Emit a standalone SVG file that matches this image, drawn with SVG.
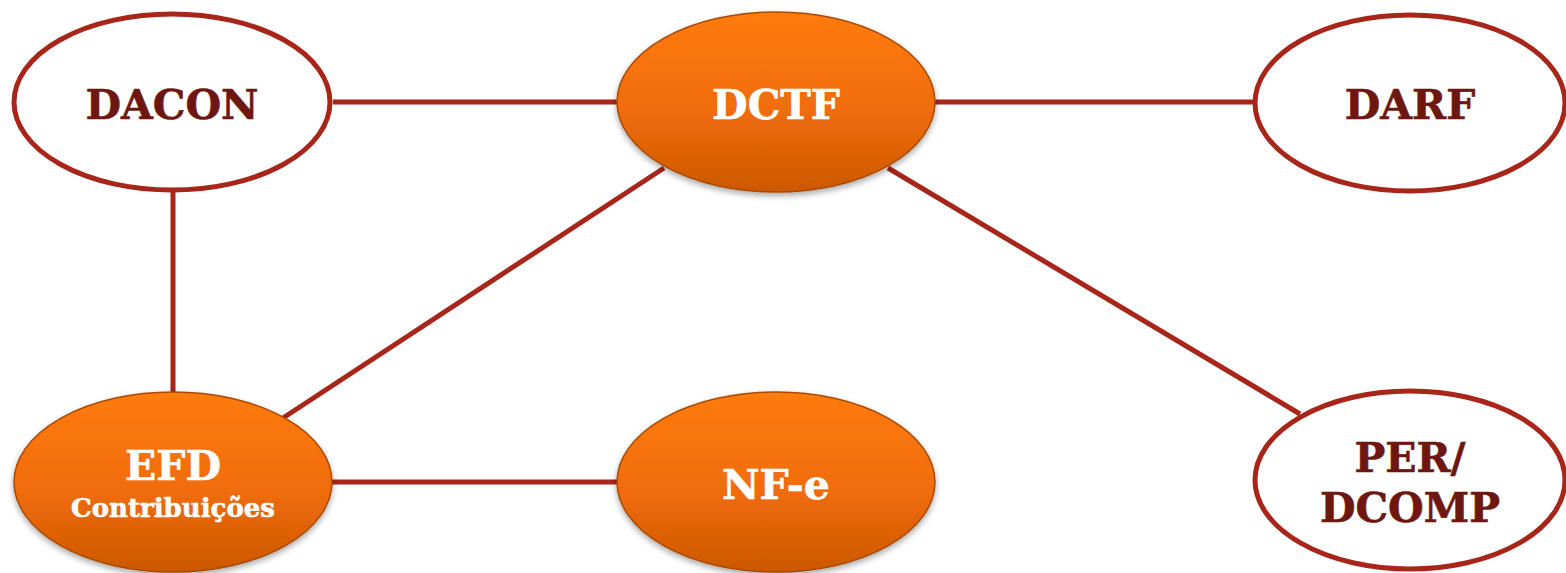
<svg xmlns="http://www.w3.org/2000/svg" width="1566" height="573" viewBox="0 0 1566 573">
<defs>
<linearGradient id="og" x1="0" y1="0" x2="0" y2="1">
<stop offset="0" stop-color="#FF7B0C"/>
<stop offset="0.55" stop-color="#F06C08"/>
<stop offset="1" stop-color="#CC5804"/>
</linearGradient>
<filter id="sh" x="-10%" y="-10%" width="120%" height="130%">
<feGaussianBlur in="SourceAlpha" stdDeviation="3"/>
<feOffset dx="0" dy="3" result="b"/>
<feComponentTransfer><feFuncA type="linear" slope="0.35"/></feComponentTransfer>
<feMerge><feMergeNode/><feMergeNode in="SourceGraphic"/></feMerge>
</filter>
</defs>
<style>
.conn{stroke:#A8251A;stroke-width:5;fill:none}
.wn{fill:#fff;stroke:#A8251A;stroke-width:5}
.on{fill:url(#og);stroke:#A84A06;stroke-width:1.5;filter:url(#sh)}
.t{font-family:"DejaVu Serif","Liberation Serif",serif;font-weight:bold;text-anchor:middle}
.dk{fill:#6E1710;stroke:#6E1710;stroke-width:0.6}
.wt{fill:#fff;stroke:#fff;stroke-width:0.6}
</style>
<g id="connectors">
<line class="conn" x1="333" y1="102" x2="617" y2="102"/>
<line class="conn" x1="935" y1="102" x2="1253" y2="102"/>
<line class="conn" x1="173" y1="190" x2="173" y2="394"/>
<line class="conn" x1="664" y1="168" x2="283" y2="418"/>
<line class="conn" x1="888" y1="168" x2="1300" y2="414"/>
<line class="conn" x1="331" y1="482" x2="619" y2="482"/>
</g>
<g id="dacon">
<ellipse class="wn" cx="172" cy="102" rx="158" ry="88"/>
<text class="t dk" x="172" y="119" font-size="41">DACON</text>
</g>
<g id="dctf">
<ellipse class="on" cx="776" cy="102" rx="159" ry="90"/>
<text class="t wt" x="776" y="119" font-size="41">DCTF</text>
</g>
<g id="darf">
<ellipse class="wn" cx="1410" cy="103" rx="155" ry="88"/>
<text class="t dk" x="1410" y="119" font-size="41">DARF</text>
</g>
<g id="efd">
<ellipse class="on" cx="173" cy="482" rx="159" ry="90"/>
<text class="t wt" x="173" y="480" font-size="41">EFD</text>
<text class="t wt" x="173" y="517" font-size="26">Contribuições</text>
</g>
<g id="nfe">
<ellipse class="on" cx="776" cy="482" rx="159" ry="90"/>
<text class="t wt" x="776" y="499" font-size="41">NF-e</text>
</g>
<g id="perdcomp">
<ellipse class="wn" cx="1410" cy="480" rx="155" ry="89"/>
<text class="t dk" x="1410" y="472" font-size="41">PER/</text>
<text class="t dk" x="1410" y="522" font-size="41">DCOMP</text>
</g>
</svg>
